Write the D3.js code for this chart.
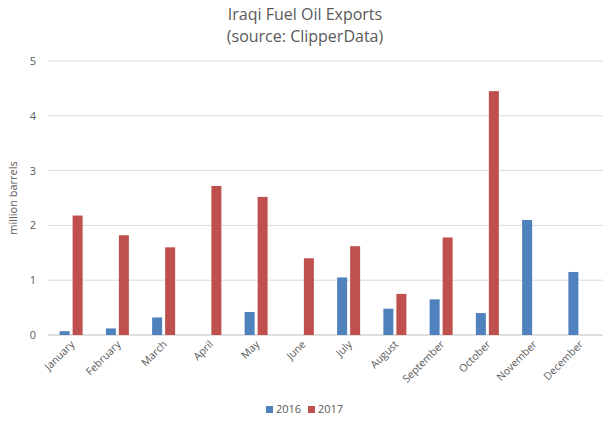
<!DOCTYPE html>
<html><head><meta charset="utf-8">
<script src="https://cdn.jsdelivr.net/npm/d3@7"></script>
<style>body{margin:0;background:#fff}text{font-family:"Open Sans",sans-serif}</style>
</head><body><svg id="c" width="611" height="423"></svg>
<script>
const months=["January","February","March","April","May","June","July","August","September","October","November","December"];
const s2016=[0.07,0.12,0.32,0,0.42,0,1.05,0.48,0.65,0.40,2.10,1.15];
const s2017=[2.18,1.82,1.60,2.72,2.52,1.40,1.62,0.75,1.78,4.45,0,0];
const yTicks=[0,1,2,3,4,5];
const svg=d3.select("#c");
const L=48,R=603,T=61,B=335;
const x=d3.scaleBand().domain(months).range([L,R]);
const y=d3.scaleLinear().domain([0,5]).range([B,T]);
svg.append("g").selectAll("line").data(yTicks).join("line")
 .attr("x1",L).attr("x2",R).attr("y1",d=>y(d)).attr("y2",d=>y(d))
 .attr("stroke",d=>d===0?"#bfbfbf":"#d9d9d9").attr("stroke-width",1);
svg.append("g").selectAll("text").data(yTicks).join("text")
 .attr("x",36).attr("y",d=>y(d)+4).attr("text-anchor","end").attr("font-size",11).attr("fill","#595959").text(d=>d);
const bw=10;
months.forEach((m,i)=>{
 const c=x(m)+x.bandwidth()/2;
 svg.append("rect").attr("x",c-bw-1.5).attr("width",bw).attr("y",y(s2016[i])).attr("height",B-y(s2016[i])).attr("fill","#4f81bd");
 svg.append("rect").attr("x",c+1.5).attr("width",bw).attr("y",y(s2017[i])).attr("height",B-y(s2017[i])).attr("fill","#c0504d");
 svg.append("text").attr("transform",`translate(${c+4},${B+10}) rotate(-45)`).attr("text-anchor","end").attr("font-size",10.5).attr("fill","#595959").text(m);
});
svg.append("text").attr("x",305).attr("y",20).attr("text-anchor","middle").attr("font-size",16).attr("fill","#595959").text("Iraqi Fuel Oil Exports");
svg.append("text").attr("x",305).attr("y",42).attr("text-anchor","middle").attr("font-size",16).attr("fill","#595959").text("(source: ClipperData)");
svg.append("text").attr("transform","translate(17,198) rotate(-90)").attr("text-anchor","middle").attr("font-size",11).attr("fill","#595959").text("million barrels");
const lg=[["2016","#4f81bd",266],["2017","#c0504d",308]];
lg.forEach(([t,c,lx])=>{
 svg.append("rect").attr("x",lx).attr("y",406).attr("width",7).attr("height",7).attr("fill",c);
 svg.append("text").attr("x",lx+10).attr("y",413).attr("font-size",11).attr("fill","#595959").text(t);
});
</script></body></html>
